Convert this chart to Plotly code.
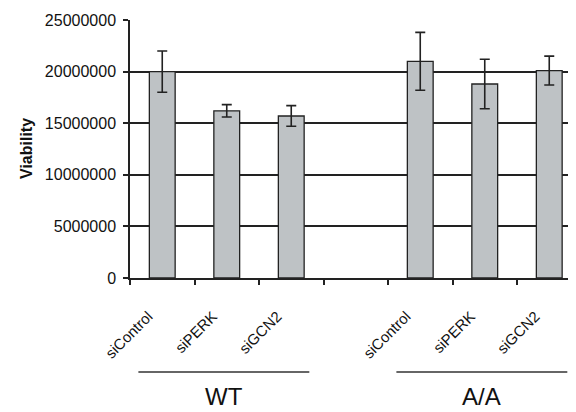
import plotly.graph_objects as go

# ---- data ----
categories = ["siControl", "siPERK", "siGCN2", "", "siControl", "siPERK", "siGCN2"]
viability = [20000000, 16200000, 15700000, None, 21000000, 18800000, 20100000]
errors = [2000000, 600000, 1000000, None, 2800000, 2400000, 1400000]
groups = ["WT", "A/A"]
group_members = [[0, 1, 2], [4, 5, 6]]
y_ticks = [0, 5000000, 10000000, 15000000, 20000000, 25000000]

pos = list(range(len(categories)))
bar_x = [p for p, v in zip(pos, viability) if v is not None]
bar_y = [v for v in viability if v is not None]
bar_e = [e for e in errors if e is not None]

FONT = "Liberation Sans, Arial, sans-serif"
PLOT_W = 446  # plot area width in px
PLOT_H = 258  # plot area height in px

fig = go.Figure()
fig.add_trace(go.Bar(
    x=bar_x, y=bar_y, width=0.4,
    marker=dict(color="#bec2c5", line=dict(color="#222222", width=1.3)),
    error_y=dict(type="data", array=bar_e, visible=True, color="#222222",
                 thickness=1.6, width=5),
))

shapes = []
annotations = []
for name, members in zip(groups, group_members):
    x0 = members[0] - 0.37
    x1 = members[-1] + 0.28
    shapes.append(dict(type="line", xref="x", yref="paper", x0=x0, x1=x1,
                       y0=-94 / PLOT_H, y1=-94 / PLOT_H,
                       line=dict(color="#333333", width=1.3)))
    annotations.append(dict(text=name, xref="x", yref="paper", x=(x0 + x1) / 2,
                            y=-118 / PLOT_H, showarrow=False, xanchor="center",
                            yanchor="middle",
                            font=dict(family=FONT, size=24, color="#111111")))

annotations.append(dict(text="<b>Viability</b>", xref="paper", yref="paper",
                        x=-104 / PLOT_W, y=0.5, textangle=-90, showarrow=False,
                        xanchor="center", yanchor="middle",
                        font=dict(family=FONT, size=16, color="#111111")))

fig.update_layout(
    width=568, height=404,
    margin=dict(l=122, r=0, t=12, b=134),
    paper_bgcolor="white", plot_bgcolor="white",
    showlegend=False,
    shapes=shapes, annotations=annotations,
    xaxis=dict(
        range=[-0.5, -0.5 + PLOT_W / 64.5],
        tickmode="array", tickvals=pos, ticktext=categories,
        tickangle=-45, ticks="outside", ticklen=22, tickcolor="rgba(0,0,0,0)",
        ticklabelshift=-14,
        tickfont=dict(family=FONT, size=15, color="#111111"),
        showline=True, linecolor="#222222", linewidth=1.5,
        showgrid=False, zeroline=False,
        minor=dict(tickmode="array", tickvals=[p - 0.5 for p in pos] + [len(pos) - 0.5],
                   ticks="outside", ticklen=5, tickcolor="#222222", tickwidth=1.5,
                   showgrid=False),
    ),
    yaxis=dict(
        range=[0, 25000000],
        tickmode="array", tickvals=y_ticks, ticktext=[str(v) for v in y_ticks],
        ticks="outside", ticklen=5, tickcolor="#222222", tickwidth=1.5,
        ticklabelstandoff=4,
        tickfont=dict(family=FONT, size=16, color="#111111"),
        showline=True, linecolor="#222222", linewidth=1.5,
        showgrid=True, gridcolor="#222222", gridwidth=1.5,
        zeroline=False,
    ),
)

fig.write_html("out.html")
